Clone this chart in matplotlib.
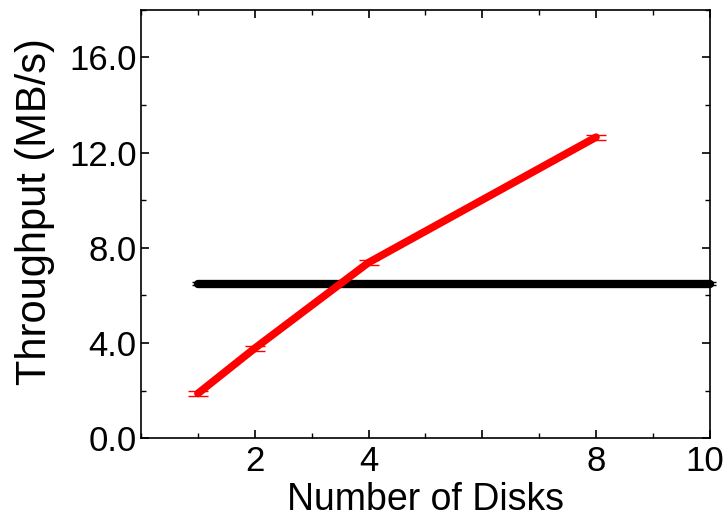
import numpy as np
import matplotlib.pyplot as plt
import matplotlib.transforms as mtransforms
from matplotlib.ticker import MultipleLocator

plt.rcParams['font.family'] = ['Liberation Sans', 'DejaVu Sans']

# data
disks = [1, 2, 4, 8]
tput = [1.88, 3.78, 7.38, 12.65]
tput_err = [0.12, 0.1, 0.12, 0.1]

base_x = [1, 10]
base_y = [6.5, 6.5]
base_err = [0.08, 0.08]

xtick_vals = [2, 4, 6, 8, 10]
xtick_labels = ['2', '4', '', '8', '10']

fig = plt.figure(figsize=(7.25, 5.18), dpi=100)
ax = fig.add_axes([0.1945, 0.154, 0.7845, 0.827])

ax.errorbar(base_x, base_y, yerr=base_err, color='black', lw=6,
            capsize=4, capthick=1, elinewidth=1, clip_on=False, zorder=2,
            solid_capstyle='round')
ax.errorbar(disks, tput, yerr=tput_err, color='red', lw=5.5,
            capsize=7, capthick=1, elinewidth=1, zorder=3,
            solid_capstyle='round')

ax.set_xlim(0, 10)
ax.set_ylim(0, 18)
ax.set_xticks(xtick_vals)
ax.set_xticklabels(xtick_labels)
ax.xaxis.set_minor_locator(MultipleLocator(1))
ax.set_yticks([0, 4, 8, 12, 16])
ax.set_yticklabels(['0.0', '4.0', '8.0', '12.0', '16.0'])
ax.yaxis.set_minor_locator(MultipleLocator(2))

ax.tick_params(which='both', direction='in', top=True, right=True, labelsize=25)
ax.tick_params(which='major', length=6, width=1.2)
ax.tick_params(which='minor', length=3.5, width=1)
ax.tick_params(axis='x', pad=5)
ax.tick_params(axis='y', pad=3)
for s in ax.spines.values():
    s.set_linewidth(1.2)

# nudge the "10" label so it stays inside the figure
last = ax.get_xticklabels()[-1]
last.set_transform(last.get_transform() +
                   mtransforms.ScaledTranslation(-5 / 100, 0, fig.dpi_scale_trans))

ax.set_xlabel('Number of Disks', fontsize=27, labelpad=3)
ax.set_ylabel('Throughput (MB/s)', fontsize=30)
ax.yaxis.set_label_coords(-0.151, 0.53)

fig.savefig('out.png', dpi=100)
